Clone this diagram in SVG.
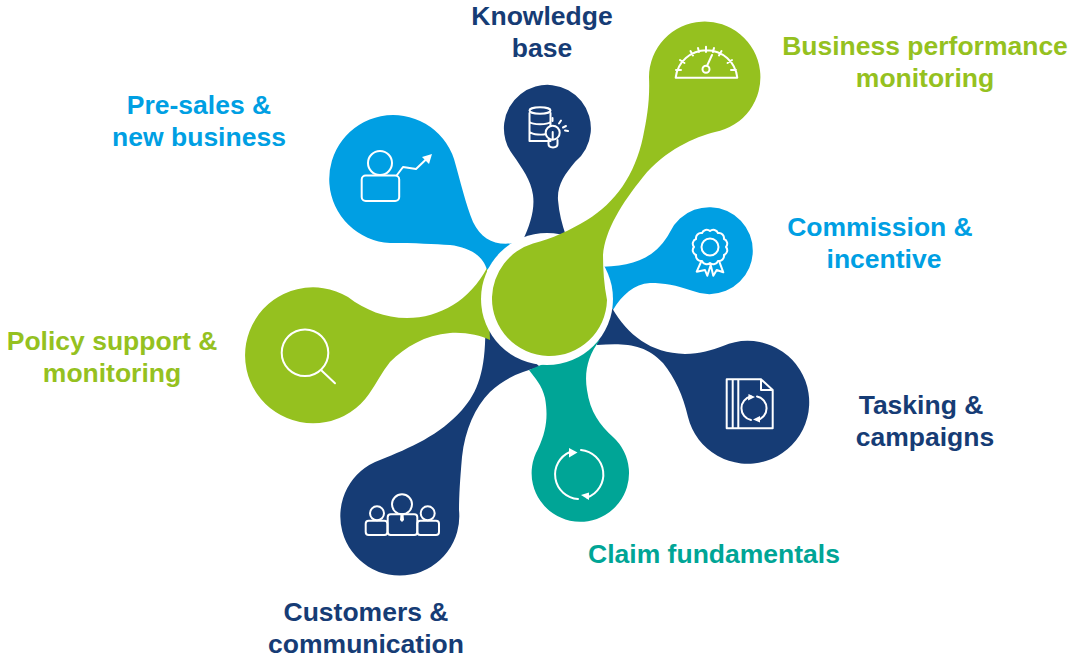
<svg xmlns="http://www.w3.org/2000/svg" width="1070" height="658" viewBox="0 0 1070 658">
<style>
text{font-family:"Liberation Sans",Arial,sans-serif;font-weight:700;font-size:26.5px;text-anchor:middle}
.ic{fill:none;stroke:#fff;stroke-width:2;stroke-linejoin:round;stroke-linecap:round}
.ah{fill:#fff;stroke:none}
.g{fill:#95C11F}.b{fill:#009FE3}.n{fill:#163C75}.t{fill:#00A596}
</style>
<rect width="1070" height="658" fill="#fff"/>
<g id="connectors">
<path id="blob-knowledge" class="n" d="M513 155A43.500 43.500 0 1 1 575 162C565 174 557 185 558 200C559 213 562 224 566 236L523 240C530 225 535 210 533 195C531 180 522 168 513 155Z"/>
<path id="blob-presales" class="b" d="M454 159A64 64 0 1 0 390 243C415 243 435 244 450 245C468 247 483 255 487 270L515 243C495 246 482 240 473 222C466 205 460 180 454 159Z"/>
<path id="blob-commission" class="b" d="M670 232A43.500 43.500 0 1 1 693 291C675 285 665 283 650 283C634 284 622 295 613 310L595 267C630 267 655 260 670 232Z"/>
<path id="blob-tasking" class="n" d="M723 346A61.500 61.500 0 1 1 688 417C683 395 675 378 663 363C645 343 622 343 597 345L600 300L612 308C628 335 650 353 685 354C700 354 712 350 723 346Z"/>
<path id="blob-customers" class="n" d="M380 460C410 448 440 435 462 410C480 390 487 365 485 315L540 367C520 372 505 378 490 392C475 407 465 430 462 457C460 480 459 495 459 510A59.500 59.500 0 1 1 380 460Z"/>
<path id="blob-claim" class="t" d="M538 449C547 430 548 415 545 398C542 385 535 378 529 370L600 340C588 355 584 372 587 390C590 412 600 425 613 437A48.700 48.700 0 1 1 538 449Z"/>
<path id="blob-policy" class="g" d="M348 297C365 310 385 318 407 318C440 318 470 300 487 268L490 340C480 335 465 332 450 333C425 335 405 347 390 362C382 372 376 384 369 394A68 68 0 1 1 348 297Z"/>
</g>
<circle cx="547" cy="299" r="66" fill="#fff"/>
<g id="node-knowledge">
<path class="ic" d="M529.500 113V141H550.500V113M529.500 122C533 125 547 125 550.500 122M529.500 132C533 135 543 135 546 134"/>
<ellipse class="ic" cx="540" cy="110.500" rx="10.500" ry="3.200"/>
<circle cx="552.700" cy="132.700" r="7" fill="#163C75" stroke="#fff" stroke-width="2"/>
<path class="ic" d="M548.500 140V144C548.500 148.500 557.500 148.500 557.500 144V140M552.700 132V139M552.500 118V121M561 120.500L559 123.500M566 126L563 127.500M568 131L565 130.500"/>
</g>
<g id="node-presales">
<circle class="ic" cx="380" cy="163" r="12"/>
<rect class="ic" x="361.700" y="175.500" width="37.500" height="25.500" rx="4"/>
<path class="ic" d="M397 175L403 167L416 169L427 158.500"/>
<path class="ah" d="M432 154L429 164L422 157Z"/>
</g>
<g id="node-policy">
<circle class="ic" cx="305" cy="352.700" r="23.300"/>
<path class="ic" d="M321 370L335 383.300"/>
</g>
<g id="node-customers">
<circle class="ic" cx="402" cy="504.300" r="10"/>
<rect class="ic" x="387.700" y="514.300" width="29.600" height="20.700" rx="3"/>
<circle class="ic" cx="377" cy="513.300" r="7"/>
<rect class="ic" x="365.700" y="520.700" width="21.700" height="14.300" rx="3"/>
<circle class="ic" cx="427.700" cy="513.300" r="7"/>
<rect class="ic" x="417.300" y="520.700" width="21.700" height="14.300" rx="3"/>
<path class="ah" d="M400.500 514.500H403.500L404 520L402 522L400 520Z"/>
</g>
<g id="node-claim">
<path class="ic" d="M581 450A24.500 24.500 0 0 1 587 497.500"/>
<path class="ic" d="M578 499A24.500 24.500 0 0 1 570 452"/>
<path class="ah" d="M577.500 452.500L569 457.500L569 448Z"/>
<path class="ah" d="M581 495L589 492.500L589 500Z"/>
</g>
<g id="node-tasking">
<path class="ic" d="M726.700 379.300H761L772.700 390V428.300H726.700ZM732.700 379.300V428.300M738.300 379.300V428.300M761 379.300V390H772.700"/>
<path class="ic" d="M757 396.500A12 12 0 0 1 757 420"/>
<path class="ic" d="M751 420A12 12 0 0 1 751 396.500"/>
<path class="ah" d="M755 397L748 400.500L748.500 394Z"/>
<path class="ah" d="M753 419.500L760 416L760 422.500Z"/>
</g>
<g id="node-commission">
<path class="ic" d="M726 247A5 5 0 0 1 723.900 255A5 5 0 0 1 718 260.900A5 5 0 0 1 710 263A5 5 0 0 1 702 260.900A5 5 0 0 1 696.100 255A5 5 0 0 1 694 247A5 5 0 0 1 696.100 239A5 5 0 0 1 702 233.100A5 5 0 0 1 710 231A5 5 0 0 1 718 233.100A5 5 0 0 1 723.900 239A5 5 0 0 1 726 247Z"/>
<circle class="ic" cx="710" cy="247" r="8.500"/>
<path class="ic" d="M701 262L696.700 271.700L705 270L707.300 275.700L710.700 265L713.300 275.700L716.700 270L723.300 272.300L719.300 261.700"/>
</g>
<g id="node-business">
<path class="g" d="M492 297A58 58 0 0 1 533 243.500C552 239 570 230 587 220C615 203 635 175 643 137C647 118 650 100 649 77A55.700 55.700 0 1 1 715 132C695 137 665 150 643 177C622 203 605 230 603 255C603 270 604 285 607 300A57.500 57.500 0 0 1 492 297Z"/>
<path class="ic" d="M675.700 77.700A31 31 0 0 1 737.300 77.700ZM706 46.700V52M690.500 51L693 55.500M680 60L684.500 63M676 70H681M721.500 51L719 55.500M732 60L727.500 63M736 70H731M698 48L699 52M714 48L713 52"/>
<circle class="ic" cx="706" cy="69.300" r="3.500"/>
<path class="ic" d="M707 65.800L712 55"/>
</g>
<g id="labels">
<text fill="#163C75" x="542" y="25">Knowledge</text><text fill="#163C75" x="542" y="57">base</text>
<text fill="#009FE3" x="199" y="114">Pre-sales &amp;</text><text fill="#009FE3" x="199" y="146">new business</text>
<text fill="#95C11F" x="925" y="55">Business performance</text><text fill="#95C11F" x="925" y="87">monitoring</text>
<text fill="#009FE3" x="880" y="236">Commission &amp;</text><text fill="#009FE3" x="884" y="268">incentive</text>
<text fill="#95C11F" x="112" y="350">Policy support &amp;</text><text fill="#95C11F" x="112" y="382">monitoring</text>
<text fill="#163C75" x="921" y="414">Tasking &amp;</text><text fill="#163C75" x="925" y="446">campaigns</text>
<text fill="#00A596" x="714" y="563">Claim fundamentals</text>
<text fill="#163C75" x="366" y="621">Customers &amp;</text><text fill="#163C75" x="366" y="653">communication</text>
</g>
</svg>
